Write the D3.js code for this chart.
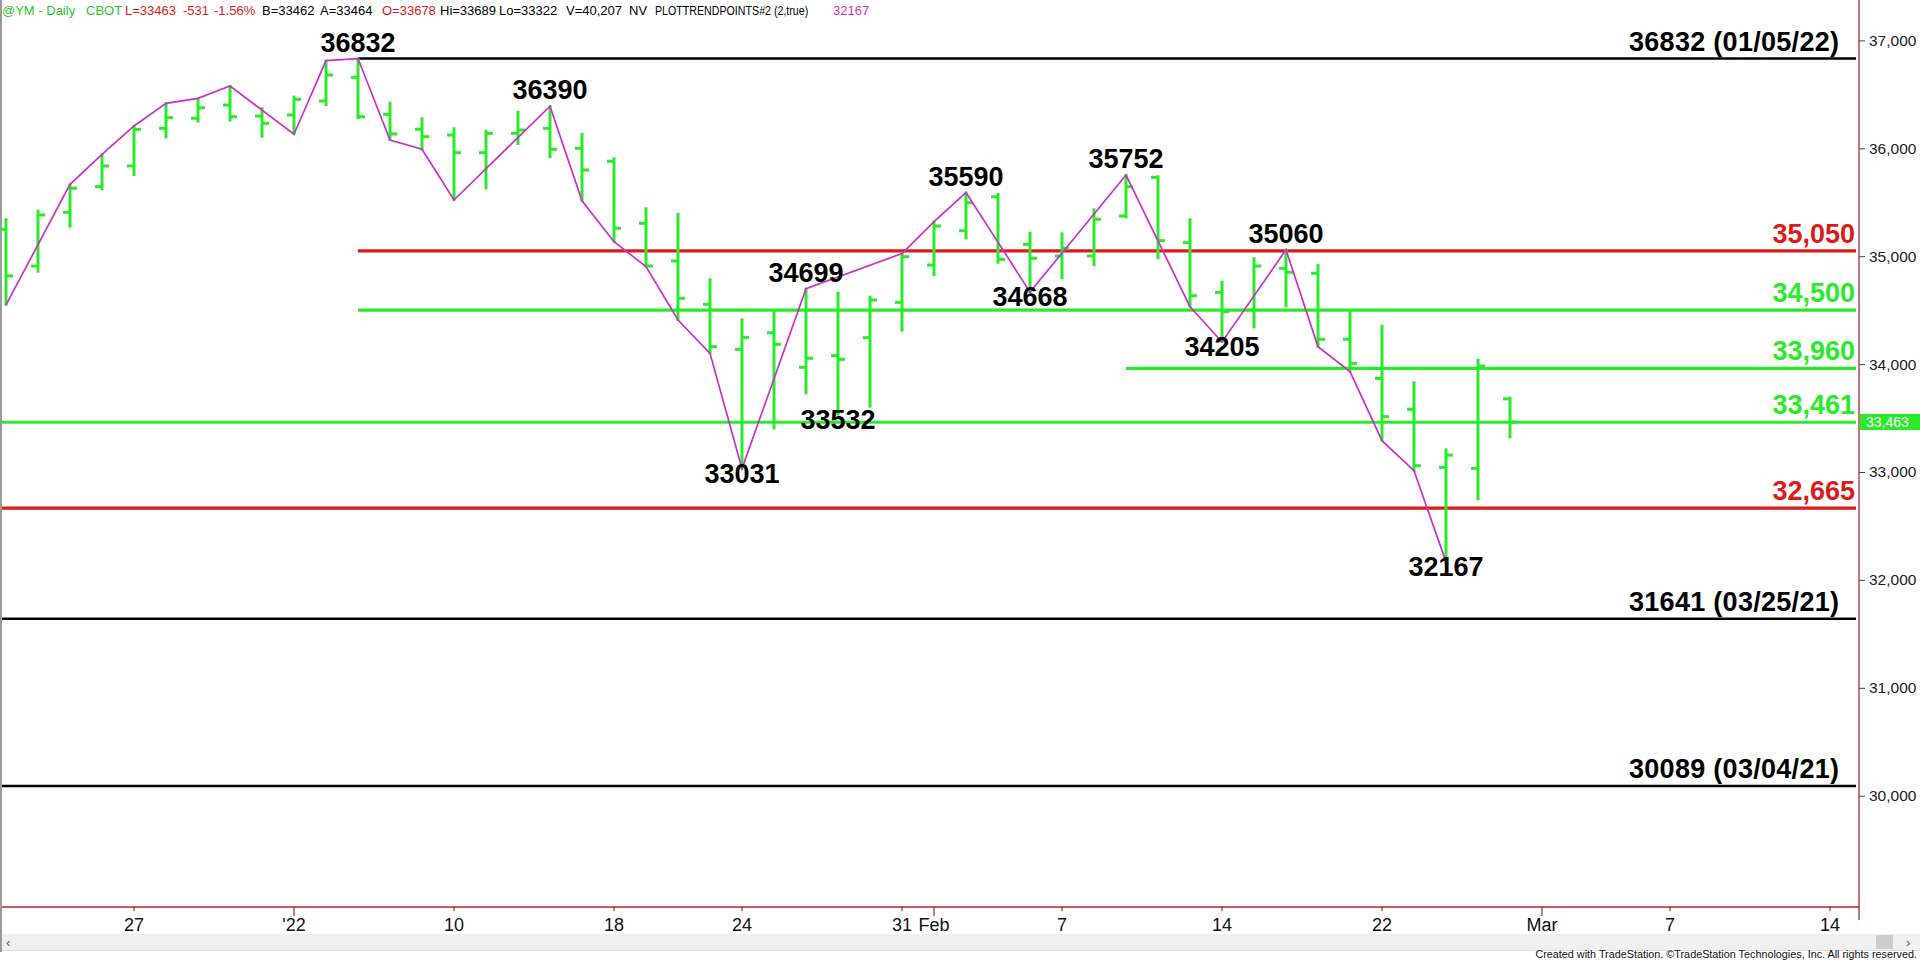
<!DOCTYPE html>
<html><head><meta charset="utf-8">
<script src="https://cdn.jsdelivr.net/npm/d3@7"></script>
<style>body{margin:0;background:#fff;overflow:hidden}svg{display:block}</style>
</head><body><svg id="c" width="1920" height="963"></svg>
<script>
// ---------- DATA ----------
const barDates = ["2021-12-20","2021-12-21","2021-12-22","2021-12-23","2021-12-27","2021-12-28","2021-12-29","2021-12-30","2021-12-31",
  "2022-01-03","2022-01-04","2022-01-05","2022-01-06","2022-01-07","2022-01-10","2022-01-11","2022-01-12","2022-01-13","2022-01-14",
  "2022-01-18","2022-01-19","2022-01-20","2022-01-21","2022-01-24","2022-01-25","2022-01-26","2022-01-27","2022-01-28","2022-01-31",
  "2022-02-01","2022-02-02","2022-02-03","2022-02-04","2022-02-07","2022-02-08","2022-02-09","2022-02-10","2022-02-11",
  "2022-02-14","2022-02-15","2022-02-16","2022-02-17","2022-02-18","2022-02-22","2022-02-23","2022-02-24","2022-02-25","2022-02-28"];
const futureDates = ["2022-03-01","2022-03-02","2022-03-03","2022-03-04","2022-03-07","2022-03-08","2022-03-09","2022-03-10","2022-03-11","2022-03-14","2022-03-15","2022-03-16"];
const opens  = [35249,34909,35407,35644,35836,36185,36278,36401,36299,36309,36438,36658,36315,36176,36123,35959,36139,36185,36000,35880,35305,34956,34554,34137,34291,33970,34078,34245,34572,34918,35236,35551,35110,35002,35002,35373,35731,35125,34665,34502,34888,34842,34230,33868,33581,33043,33034,33678];
const highs  = [35342,35422,35666,35944,36207,36417,36463,36577,36371,36479,36812,36832,36423,36278,36185,36163,36339,36390,36133,35907,35444,35391,34786,34415,34501,34699,34662,34625,35025,35320,35590,35576,35218,35212,35435,35752,35740,35342,34764,34981,35060,34918,34501,34356,33831,33210,34039,33689];
const lows   = [34548,34857,35274,35620,35753,36102,36247,36256,36108,36130,36401,36278,36077,35991,35521,35629,36040,35917,35514,35134,34903,34409,34100,33031,33405,33729,33532,33605,34310,34826,35166,34940,34668,34795,34918,35360,34981,34532,34205,34340,34538,34161,33930,33290,33012,32167,32747,33322];
const closes = [34817,35382,35629,35836,36176,36284,36376,36293,36232,36454,36679,36293,36133,36108,35959,36139,36170,35991,35799,35259,34909,34610,34161,34248,34183,34054,34044,34594,34996,35280,35496,34971,34981,35073,35342,35644,35144,34634,34486,34909,34851,34230,34007,33513,33058,33157,33982,33463];

const trendDates = ["2021-12-20","2021-12-22","2021-12-23","2021-12-27","2021-12-28","2021-12-29","2021-12-30","2022-01-03","2022-01-04","2022-01-05",
  "2022-01-06","2022-01-07","2022-01-10","2022-01-13","2022-01-14","2022-01-18","2022-01-19","2022-01-20","2022-01-21","2022-01-24","2022-01-26",
  "2022-01-31","2022-02-01","2022-02-02","2022-02-04","2022-02-09","2022-02-11","2022-02-14","2022-02-16","2022-02-17","2022-02-18","2022-02-22","2022-02-23","2022-02-24"];
const trendValues = [34548,35666,35944,36207,36417,36463,36577,36130,36812,36832,36077,35991,35521,36390,35514,35134,34903,34409,34100,33031,34699,
  35025,35320,35590,34668,35752,34532,34205,35060,34161,33930,33290,33012,32167];

const pivotDates  = ["2022-01-05","2022-01-13","2022-01-24","2022-01-26","2022-01-27","2022-02-02","2022-02-04","2022-02-09","2022-02-14","2022-02-16","2022-02-24"];
const pivotValues = [36832,36390,33031,34699,33532,35590,34668,35752,34205,35060,32167];
const pivotSides  = ["high","high","low","high","low","high","low","high","low","high","low"];

const levelValues = [36832,35050,34500,33960,33461,32665,31641,30089];
const levelLabels = ["36832 (01/05/22)","35,050","34,500","33,960","33,461","32,665","31641 (03/25/21)","30089 (03/04/21)"];
const levelKinds  = ["extreme","resistance","support","support","support","resistance","extreme","extreme"];
const levelFrom   = ["2022-01-05","2022-01-05","2022-01-05","2022-02-09",null,null,null,null];

const yTicks = [30000,31000,32000,33000,34000,35000,36000,37000];
const xTickDates  = ["2021-12-27","2022-01-03","2022-01-10","2022-01-18","2022-01-24","2022-01-31","2022-02-01","2022-02-07","2022-02-14","2022-02-22","2022-03-01","2022-03-07","2022-03-14"];
const xTickLabels = ["27","'22","10","18","24","31","Feb","7","14","22","Mar","7","14"];
const xTickMajor  = [false,true,false,false,false,false,true,false,false,false,true,false,false];
const lastPrice = 33463;

// ---------- STYLE ----------
const GREEN = "#2bea2b", RED = "#dc1a1a", MAGENTA = "#cc2fcc", AXIS = "#a52a2a";
const kindColor = {extreme:"#000", resistance:RED, support:GREEN};

const svg = d3.select("#c");
const allDates = barDates.concat(futureDates);
const x = d3.scalePoint().domain(allDates).range([6, 6 + 32*(allDates.length-1)]);
const y = d3.scaleLinear().domain([30000, 37000]).range([795.7, 40.4]);
const AX = 1859, AY = 907;

const bars = barDates.map((d,i)=>({d,o:opens[i],h:highs[i],l:lows[i],c:closes[i]}));

// left border
svg.append("line").attr("x1",1).attr("x2",1).attr("y1",0).attr("y2",952).attr("stroke","#9a9a9a").attr("stroke-width",2);

// level lines
const lv = levelValues.map((v,i)=>({v,label:levelLabels[i],kind:levelKinds[i],from:levelFrom[i]}));
svg.append("g").selectAll("line").data(lv).join("line")
  .attr("x1",d=>d.from? x(d.from): 2).attr("x2",AX-3)
  .attr("y1",d=>y(d.v)).attr("y2",d=>y(d.v))
  .attr("stroke",d=>kindColor[d.kind]).attr("stroke-width",d=>d.kind==="extreme"?2.5:3.2);

// bars
const gb = svg.append("g").attr("stroke",GREEN).attr("stroke-width",3);
gb.selectAll("line.hl").data(bars).join("line").attr("class","hl")
  .attr("x1",d=>x(d.d)).attr("x2",d=>x(d.d)).attr("y1",d=>y(d.h)-1).attr("y2",d=>y(d.l)+1);
gb.selectAll("line.o").data(bars).join("line").attr("class","o")
  .attr("x1",d=>x(d.d)-7).attr("x2",d=>x(d.d)).attr("y1",d=>y(d.o)).attr("y2",d=>y(d.o));
gb.selectAll("line.c").data(bars).join("line").attr("class","c")
  .attr("x1",d=>x(d.d)).attr("x2",d=>x(d.d)+7).attr("y1",d=>y(d.c)).attr("y2",d=>y(d.c));

// trend line
const trend = trendDates.map((d,i)=>({d,v:trendValues[i]}));
svg.append("path").datum(trend)
  .attr("d",d3.line().x(d=>x(d.d)).y(d=>y(d.v)))
  .attr("fill","none").attr("stroke",MAGENTA).attr("stroke-width",1.7);

// pivot labels
const pv = pivotDates.map((d,i)=>({d,v:pivotValues[i],side:pivotSides[i]}));
svg.append("g").selectAll("text").data(pv).join("text")
  .attr("x",d=>x(d.d)).attr("y",d=>d.side==="high"? y(d.v)-7 : y(d.v)+14)
  .attr("text-anchor","middle").attr("font-family","Liberation Sans, Arial, sans-serif")
  .attr("font-weight","bold").attr("font-size",27).attr("fill","#000")
  .text(d=>d.v);

// level labels
svg.append("g").selectAll("text").data(lv).join("text")
  .attr("x",d=>d.kind==="extreme"?1839:1855).attr("y",d=>y(d.v)-8)
  .attr("text-anchor","end").attr("font-family","Liberation Sans, Arial, sans-serif")
  .attr("font-weight","bold").attr("font-size",27).attr("fill",d=>kindColor[d.kind])
  .each(function(d){ if(d.kind==="extreme"){ d3.select(this).attr("textLength",210).attr("lengthAdjust","spacing"); } })
  .text(d=>d.label);

// y axis
const yAxis = d3.axisRight(y).tickValues(yTicks).tickSize(6).tickPadding(4).tickFormat(d3.format(","));
const gy = svg.append("g").attr("transform",`translate(${AX},0)`).call(yAxis);
gy.select(".domain").remove();
gy.selectAll(".tick line").attr("stroke","#444");
gy.selectAll(".tick text").attr("font-family","Liberation Sans, Arial, sans-serif").attr("font-size",15.5).attr("fill","#222");
svg.append("line").attr("x1",AX).attr("x2",AX).attr("y1",0).attr("y2",920).attr("stroke",AXIS).attr("stroke-width",1.3);

// x axis
const gx = svg.append("g").attr("transform",`translate(0,${AY})`);
gx.append("line").attr("x1",2).attr("x2",AX).attr("y1",0).attr("y2",0).attr("stroke",AXIS).attr("stroke-width",1.3);
const xt = xTickDates.map((d,i)=>({d,label:xTickLabels[i],major:xTickMajor[i]}));
gx.selectAll("line.t").data(xt).join("line").attr("class","t")
  .attr("x1",d=>x(d.d)).attr("x2",d=>x(d.d)).attr("y1",0).attr("y2",d=>d.major?9:4)
  .attr("stroke",AXIS).attr("stroke-width",1.2);
gx.selectAll("text").data(xt).join("text")
  .attr("x",d=>x(d.d)).attr("y",24).attr("text-anchor","middle")
  .attr("font-family","Liberation Sans Narrow, Arial Narrow, Liberation Sans, sans-serif")
  .attr("font-size",18).attr("fill","#111").text(d=>d.label);

// last price marker
const py = y(lastPrice);
svg.append("rect").attr("x",AX+1).attr("y",py-8).attr("width",1920-AX-1).attr("height",16).attr("fill",GREEN);
svg.append("text").attr("x",AX+7).attr("y",py+5).attr("font-family","Liberation Sans, Arial, sans-serif")
  .attr("font-size",14).attr("fill","#fff").text(d3.format(",")(lastPrice));

// scrollbar
svg.append("rect").attr("x",2).attr("y",934).attr("width",1918).attr("height",16).attr("fill","#f0f0f0");
svg.append("line").attr("x1",2).attr("x2",1920).attr("y1",950.5).attr("y2",950.5).attr("stroke","#dcdcdc");
svg.append("rect").attr("x",1876).attr("y",935).attr("width",17).attr("height",14).attr("fill","#cdcdcd");
svg.append("text").attr("x",6).attr("y",947).attr("font-family","Liberation Sans, sans-serif").attr("font-size",13).attr("fill","#555").text("‹");
svg.append("text").attr("x",1906).attr("y",947).attr("font-family","Liberation Sans, sans-serif").attr("font-size",13).attr("fill","#555").text("›");

// credits (horizontally condensed)
svg.append("text").attr("transform","translate(1917,957.5) scale(0.94,1)").attr("text-anchor","end")
  .attr("font-family","Liberation Sans Narrow, Arial Narrow, Liberation Sans, sans-serif").attr("font-size",11.5)
  .attr("fill","#111")
  .text("Created with TradeStation. ©TradeStation Technologies, Inc. All rights reserved.");

// header
const hdr = [["@YM - Daily",2,"#2fc42f",1],["CBOT",86,"#2fc42f",1],["L=33463",125,RED,1],["-531",183,RED,1],["-1.56%",214,RED,1],
  ["B=33462",262,"#000",1],["A=33464",320,"#000",1],["O=33678",382,RED,1],["Hi=33689",440,"#000",1],["Lo=33322",499,"#000",1],
  ["V=40,207",566,"#000",1],["NV",629,"#000",1],["PLOTTRENDPOINTS#2 (2,true)",655,"#000",0.82],["32167",833,MAGENTA,1]];
svg.append("g").selectAll("text").data(hdr).join("text")
  .attr("transform",d=>`translate(${d[1]},15) scale(${d[3]},1)`)
  .attr("font-family","Liberation Sans, Arial, sans-serif").attr("font-size",13)
  .attr("fill",d=>d[2])
  .text(d=>d[0]);
</script></body></html>
